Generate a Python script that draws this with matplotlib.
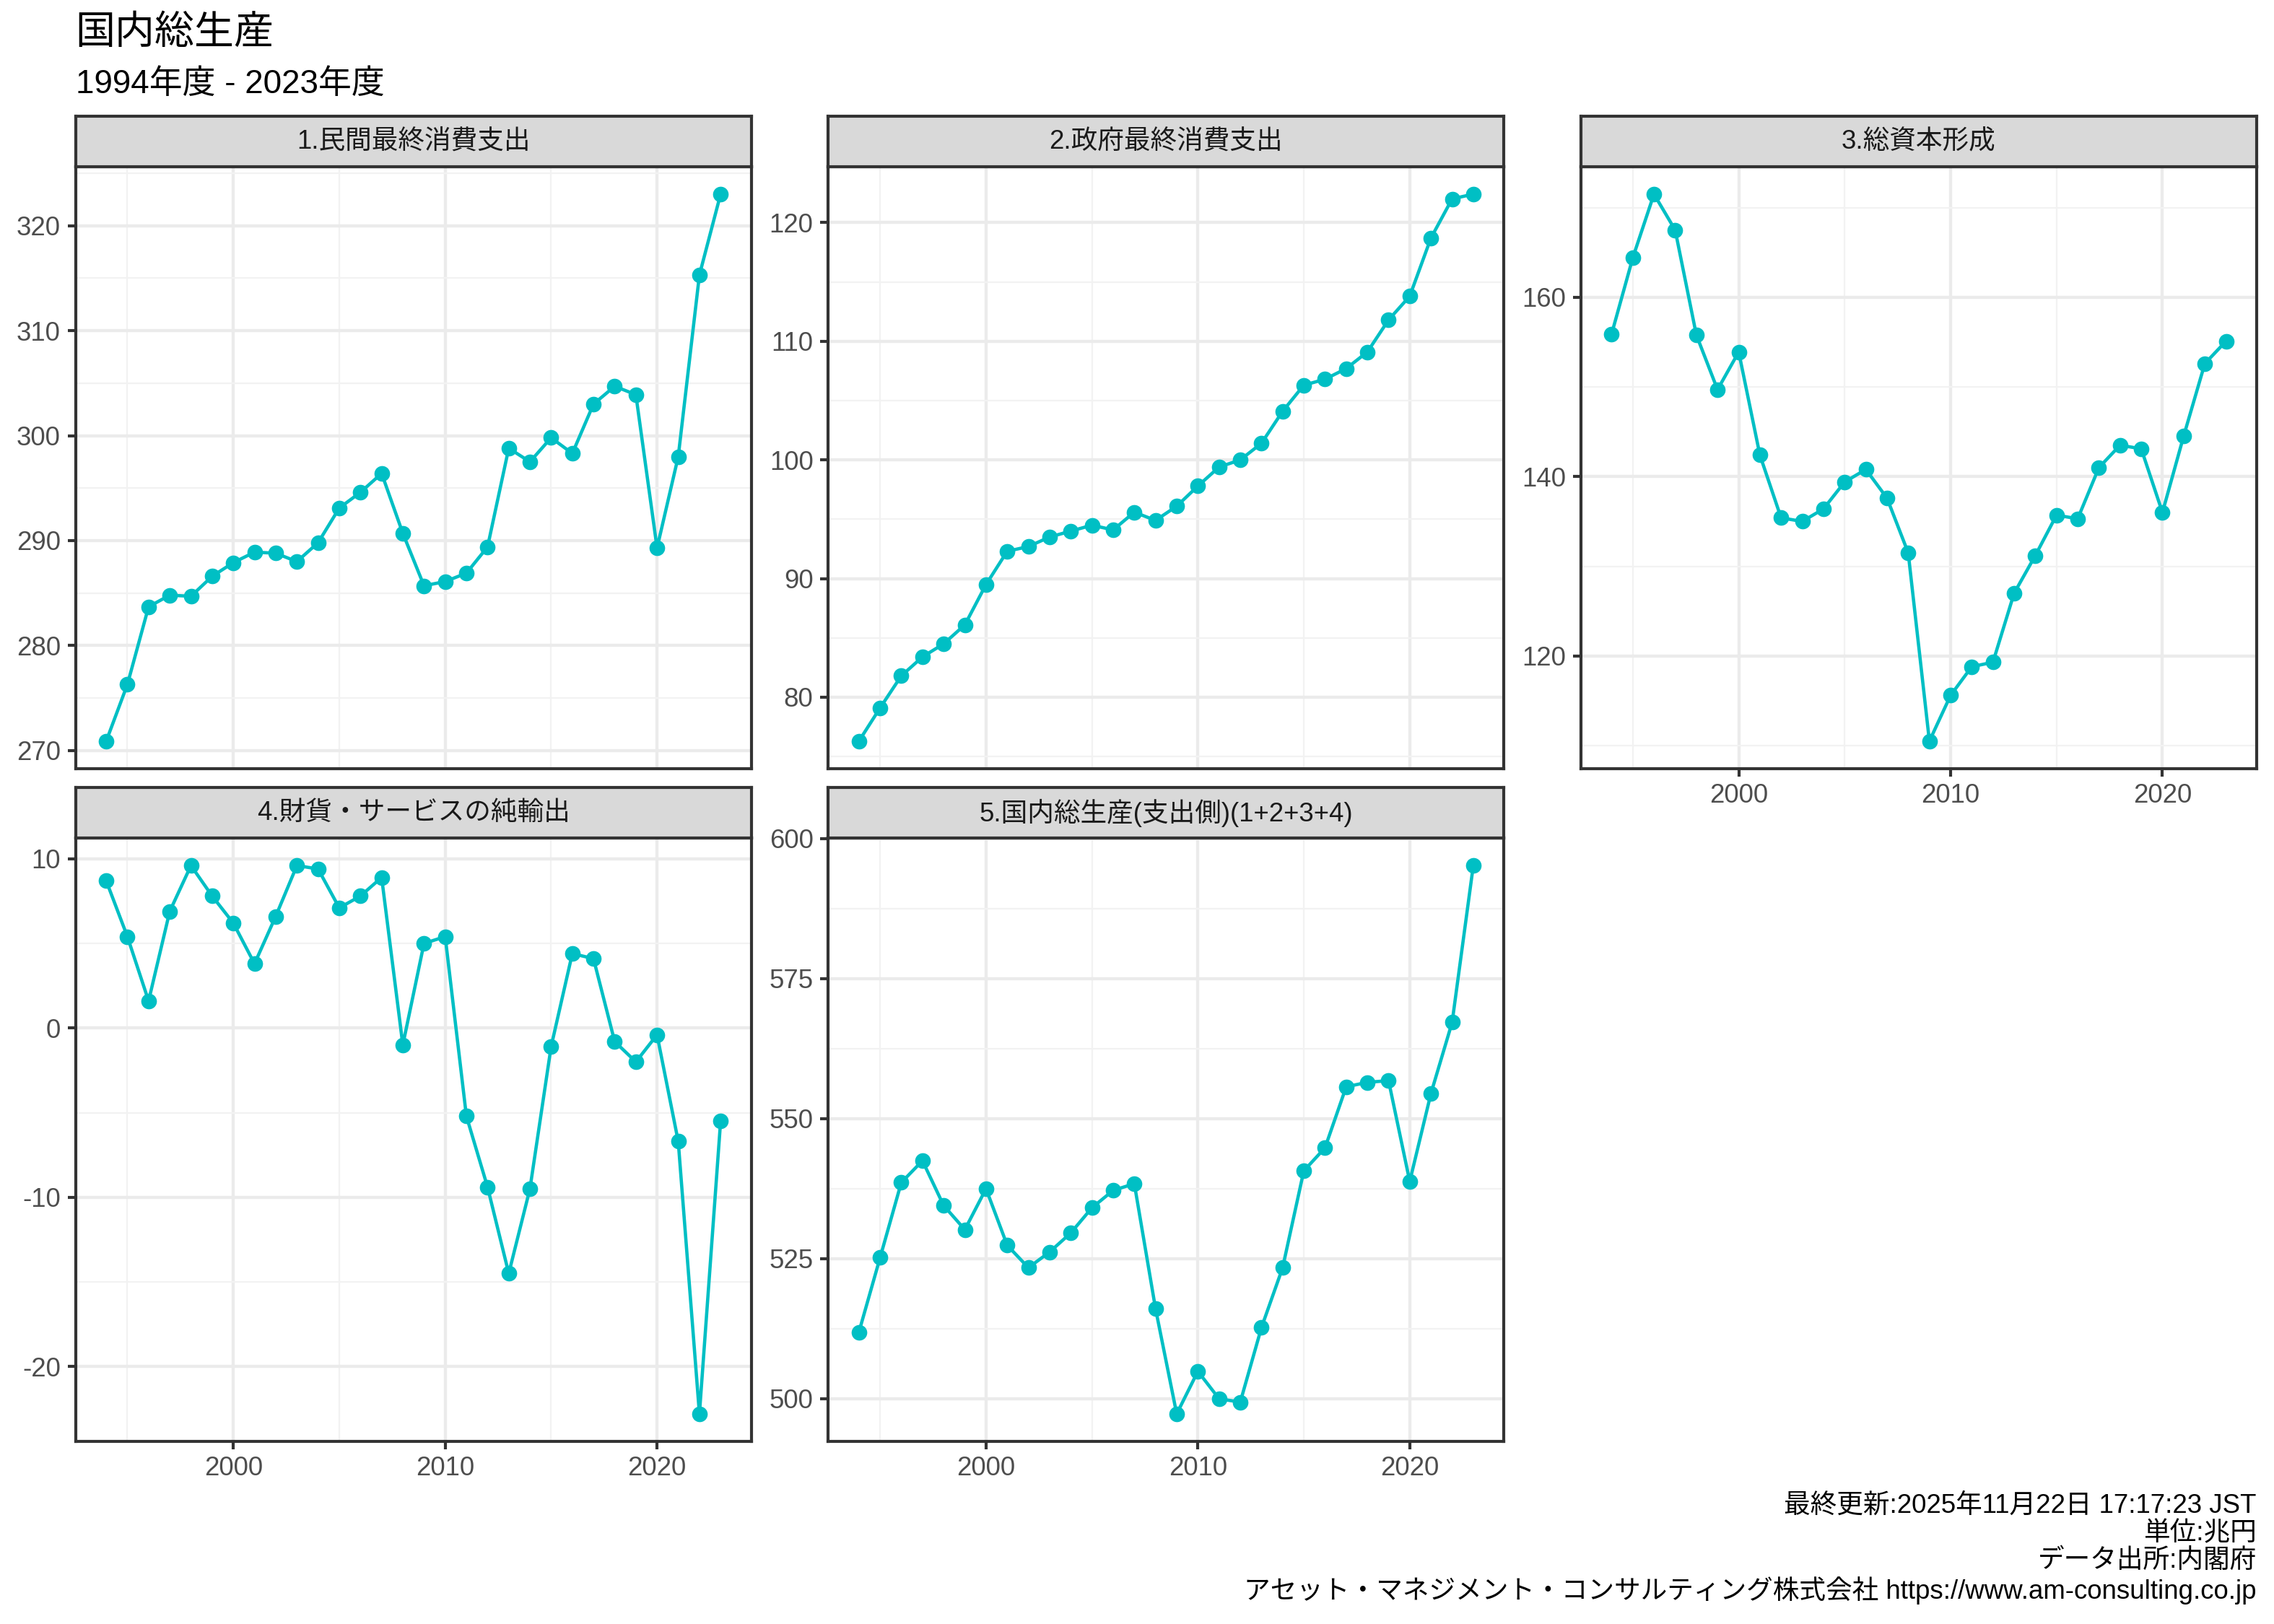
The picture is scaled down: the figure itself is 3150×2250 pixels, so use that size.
import matplotlib
matplotlib.use("Agg")
import matplotlib.pyplot as plt
import numpy as np

plt.rcParams['font.family'] = ['Liberation Sans', 'Noto Sans CJK JP', 'DejaVu Sans']
plt.rcParams['axes.unicode_minus'] = False

years = list(range(1994, 2024))

private_consumption = [270.9, 276.3, 283.7, 284.8, 284.7, 286.6, 287.9, 288.9, 288.8, 288.0,
                       289.8, 293.1, 294.6, 296.4, 290.7, 285.7, 286.1, 286.9, 289.4, 298.8,
                       297.5, 299.8, 298.3, 303.0, 304.7, 303.9, 289.3, 298.0, 315.3, 323.0]
government_consumption = [76.3, 79.1, 81.8, 83.4, 84.5, 86.1, 89.5, 92.3, 92.7, 93.5,
                          94.0, 94.5, 94.1, 95.6, 94.9, 96.1, 97.8, 99.4, 100.0, 101.4,
                          104.1, 106.3, 106.8, 107.7, 109.1, 111.8, 113.8, 118.7, 122.0, 122.4]
capital_formation = [155.9, 164.4, 171.5, 167.5, 155.8, 149.7, 153.9, 142.4, 135.4, 135.0,
                     136.4, 139.4, 140.8, 137.6, 131.5, 110.5, 115.6, 118.8, 119.3, 127.0,
                     131.2, 135.7, 135.3, 141.0, 143.5, 143.1, 136.0, 144.5, 152.6, 155.1]
net_exports = [8.7, 5.4, 1.6, 6.9, 9.6, 7.8, 6.2, 3.8, 6.6, 9.6,
               9.4, 7.1, 7.8, 8.9, -1.0, 5.0, 5.4, -5.2, -9.4, -14.5,
               -9.5, -1.1, 4.4, 4.1, -0.8, -2.0, -0.4, -6.7, -22.8, -5.5]
gdp = [511.9, 525.2, 538.6, 542.5, 534.5, 530.2, 537.5, 527.4, 523.4, 526.2,
       529.6, 534.1, 537.2, 538.4, 516.1, 497.3, 504.9, 500.0, 499.4, 512.7,
       523.4, 540.7, 544.8, 555.7, 556.5, 556.8, 538.8, 554.5, 567.2, 595.2]

panel_titles = ["1.民間最終消費支出", "2.政府最終消費支出", "3.総資本形成",
                "4.財貨・サービスの純輸出", "5.国内総生産(支出側)(1+2+3+4)"]
panel_series = [private_consumption, government_consumption, capital_formation, net_exports, gdp]
y_major = [[270, 280, 290, 300, 310, 320],
           [80, 90, 100, 110, 120],
           [120, 140, 160],
           [-20, -10, 0, 10],
           [500, 525, 550, 575, 600]]
x_major = [2000, 2010, 2020]
x_minor = [1995, 2005, 2015]

title = "国内総生産"
subtitle = "1994年度 - 2023年度"
caption_lines = ["最終更新:2025年11月22日 17:17:23 JST", "単位:兆円", "データ出所:内閣府",
                 "アセット・マネジメント・コンサルティング株式会社 https://www.am-consulting.co.jp"]

line_color = "#00BFC4"
grid_major = "#EBEBEB"
grid_minor = "#F2F2F2"
border = "#333333"

fig = plt.figure(figsize=(10.5, 7.5), dpi=300)

lefts = [0.0332, 0.3642, 0.6952]
width = 0.2972
row_bottom = [0.5268, 0.1125]
row_height = [0.8973 - 0.5268, 0.4839 - 0.1125]
strip_h = 0.0313

for i, (ttl, ser) in enumerate(zip(panel_titles, panel_series)):
    r, c = divmod(i, 3)
    l = lefts[c]
    b = row_bottom[r]
    h = row_height[r]
    ax = fig.add_axes([l, b, width, h])
    ax.plot(years, ser, color=line_color, lw=1.1, zorder=3)
    ax.plot(years, ser, 'o', color=line_color, ms=5.2, zorder=4, mec='none')
    ticks = y_major[i]
    ax.set_yticks(ticks)
    step = ticks[1] - ticks[0]
    minors = [t + step / 2 for t in [ticks[0] - step] + ticks]
    ax.set_yticks(minors, minor=True)
    ax.set_xticks(x_major)
    ax.set_xticks(x_minor, minor=True)
    vmin, vmax = min(ser), max(ser)
    pad = (vmax - vmin) * 0.05
    ax.set_ylim(vmin - pad, vmax + pad)
    ax.set_xlim(1994 - 29 * 0.05, 2023 + 29 * 0.05)
    ax.grid(which='major', color=grid_major, lw=1.05, zorder=0)
    ax.grid(which='minor', color=grid_minor, lw=0.55, zorder=0)
    ax.set_axisbelow(True)
    for sp in ax.spines.values():
        sp.set_color(border)
        sp.set_linewidth(1.0)
    ax.tick_params(which='major', axis='both', direction='out', length=2.75, width=1.0,
                   color=border, labelsize=8.8, labelcolor="#4D4D4D", pad=2.2)
    ax.tick_params(which='minor', length=0)
    show_x = (r == 1) or (i == 2)
    if not show_x:
        ax.tick_params(axis='x', which='major', length=0, labelbottom=False)
    # strip
    sax = fig.add_axes([l, b + h, width, strip_h])
    sax.set_facecolor("#D9D9D9")
    sax.set_xticks([])
    sax.set_yticks([])
    for sp in sax.spines.values():
        sp.set_color(border)
        sp.set_linewidth(1.0)
    sax.text(0.5, 0.5, ttl, transform=sax.transAxes, ha='center', va='center',
             fontsize=8.8, color="#1A1A1A")

fig.text(0.0332, 0.979, title, fontsize=13.2, ha='left', va='center', color='black')
fig.text(0.0332, 0.948, subtitle, fontsize=11, ha='left', va='center', color='black')
fig.text(0.9923, 0.012, "\n".join(caption_lines), fontsize=8.8, ha='right', va='bottom',
         multialignment='right', linespacing=1.12, color='black')

fig.savefig("out.png", dpi=300)
